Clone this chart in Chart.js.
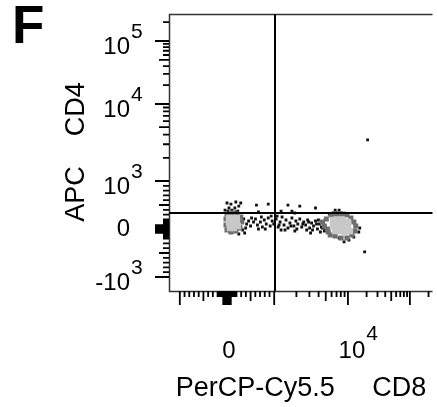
<!DOCTYPE html>
<html>
<head>
<meta charset="utf-8">
<script src="https://cdn.jsdelivr.net/npm/chart.js@4.4.1/dist/chart.umd.min.js"></script>
<style>
  html, body { margin: 0; padding: 0; background: #fff; }
  canvas { display: block; }
</style>
</head>
<body>
<canvas id="facs" width="437" height="407"></canvas>
<script>
// events, raw fluorescence (x = CD8, y = CD4)
const sparseCD8 = [0, 83, 187, 291, 250, 42, 166, -42, 229,
  333, 374, 250, 291,
  624, 874, 666, 1536, 2221, 1738, 1905, 3631, 6708, 7585, 1240,
  354, 416, 458, 499, 562, 603, 645, 707, 749, 790, 832, 874, 915, 957, 990,
  1063, 1131, 1202, 1278, 1359, 1445, 1536, 1634, 1738, 1848, 1965, 2089, 2221,
  2362, 2512, 2671, 2840, 3020, 3212, 3415, 3631, 3861, 4106, 4365, 4642, 4936,
  936, 1096, 1240, 666, 1905,
  395, 520, 728, 811, 1166, 1402, 1686, 2026, 2438, 2929, 3311, 3745, 3981, 4500, 4786,
  3114, 2754, 4233,
  5580, 6310, 7133, 8066, 9120, 20, 104, 187,
  7585, 8844, 10372, 12450, 14950, 15506, 18610, 20760];
const sparseCD4 = [541, 520, 562, 541, 478, 437, 437, 395, 374,
  -21, -83, -104, 42,
  499, 520, 354, 499, 478, 374, 333, 437, 395, 395, 374,
  208, 104, 166, 62, 146, 208, 83, 146, 42, 187, 104, 229, 62, 166, 104,
  208, 42, 146, 250, 83, 187, 21, 125, 229, 62, 166, 104, 208,
  42, 146, 83, 187, 21, 125, 62, 166, 0, 104, 42, 146, -21,
  270, 270, -21, 0, -42,
  21, 229, 250, 0, 83, -21, 62, 0, 104, 146, -21, 104, 187, 21, -42,
  -83, -21, -62,
  312, 333, 333, 333, 312, 374, 395, 354,
  -187, -270, -229, -166, -62, 21, -478, 3415];

// darker rim of the two populations
const rimCD8 = [0, 104, 208, 291, 312, 271, 187, 83, 0, -21, -21,
  4500, 4786, 5089, 5412, 5934, 6708, 7585, 8577, 9698, 11158, 12450,
  13394, 12914, 11573, 9698, 8066, 6708, 5754, 5248];
const rimCD4 = [312, 333, 312, 250, 146, 21, -42, -62, -21, 83, 208,
  146, 62, 208, -62, 291, 312, 312, 312, 291, 229, 146,
  62, -42, -125, -187, -187, -146, -125, 0];

// dense cores
const coreCD8 = [42, 125, 208, 42, 125, 208, 62, 146, 229,
  6310, 7356, 8577, 10000, 6310, 7356, 8577, 10000, 6708, 7822, 9120, 10758];
const coreCD4 = [229, 229, 229, 125, 125, 125, 21, 21, 62,
  187, 187, 187, 146, 62, 62, 62, 42, -42, -42, -62, -42];

const gateCD8 = 1000;
const gateCD4 = 333;

const xLabelValues = [0, 10000];
const xLabelBase = ['0', '10'];
const xLabelExp = ['', '4'];
const yLabelValues = [100000, 10000, 1000, 0, -1000];
const yLabelBase = ['10', '10', '10', '0', '-10'];
const yLabelExp = ['5', '4', '3', '', '3'];

const xTitle = 'PerCP-Cy5.5     CD8';
const yTitle = 'APC    CD4';
const panelLetter = 'F';

// biexponential-like display transform
const xT = { lin: 48, dec1: 75, dec2: 63 };
const yT = { lin: 48, dec1: 77, dec2: 63 };

function biex(v, p) {
  const a = Math.abs(v);
  let d;
  if (a <= 1000) d = a * p.lin / 1000;
  else if (a <= 10000) d = p.lin + p.dec1 * Math.log10(a / 1000);
  else d = p.lin + p.dec1 + p.dec2 * Math.log10(a / 10000);
  return v < 0 ? -d : d;
}

function toPoints(xs, ys) {
  return xs.map((x, i) => ({ x: biex(x, xT), y: biex(ys[i], yT) }));
}

// tick values: 10s, 100s around zero, then decades
function tickValues() {
  const out = [];
  for (let m = 1; m <= 9; m++) {
    out.push(m * 20, -m * 20, m * 100, -m * 100);
    if (m >= 2) out.push(m * 1000, m * 10000, m * 100000);
  }
  return out.concat([0, 1000, -1000, 10000, 100000]);
}

function tickLen(v) {
  const a = Math.abs(v);
  if (a < 100 || a === 1000 || a === 10000 || a === 100000) return 14;
  if (a === 500 || a === 5000 || a === 50000) return 10;
  return 6;
}

const axesPlugin = {
  id: 'facsAxes',
  afterDraw(chart) {
    const ctx = chart.ctx;
    const area = chart.chartArea;
    const xs = chart.scales.x;
    const ys = chart.scales.y;
    ctx.save();

    // frame
    ctx.strokeStyle = '#333';
    ctx.lineWidth = 1.5;
    ctx.beginPath();
    ctx.moveTo(area.right, area.top + 0.5);
    ctx.lineTo(area.left + 0.5, area.top + 0.5);
    ctx.lineTo(area.left + 0.5, area.bottom + 0.5);
    ctx.lineTo(area.right, area.bottom + 0.5);
    ctx.stroke();

    // quadrant gates
    ctx.strokeStyle = '#000';
    ctx.lineWidth = 2;
    const gx = Math.round(xs.getPixelForValue(biex(gateCD8, xT))) + 1;
    const gy = Math.round(ys.getPixelForValue(biex(gateCD4, yT)));
    ctx.beginPath();
    ctx.moveTo(gx, area.top);
    ctx.lineTo(gx, area.bottom);
    ctx.moveTo(area.left, gy);
    ctx.lineTo(area.right, gy);
    ctx.stroke();

    // ticks
    ctx.strokeStyle = '#000';
    ctx.lineWidth = 1.8;
    ctx.beginPath();
    tickValues().forEach(v => {
      const px = xs.getPixelForValue(biex(v, xT));
      if (px >= area.left && px <= area.right) {
        ctx.moveTo(px, area.bottom);
        ctx.lineTo(px, area.bottom + tickLen(v));
      }
      const py = ys.getPixelForValue(biex(v, yT));
      if (py >= area.top && py <= area.bottom) {
        ctx.moveTo(area.left, py);
        ctx.lineTo(area.left - tickLen(v), py);
      }
    });
    ctx.stroke();

    // tick labels
    ctx.fillStyle = '#000';
    yLabelValues.forEach((v, i) => {
      const py = ys.getPixelForValue(biex(v, yT));
      const exp = yLabelExp[i];
      ctx.font = '24px Arial, "Liberation Sans", sans-serif';
      ctx.textAlign = 'right';
      ctx.textBaseline = 'middle';
      ctx.fillText(yLabelBase[i], 130, py + (exp ? 6 : 0));
      if (exp) {
        ctx.font = '21px Arial, "Liberation Sans", sans-serif';
        ctx.textAlign = 'left';
        ctx.textBaseline = 'alphabetic';
        ctx.fillText(exp, 131, py - 3);
      }
    });
    xLabelValues.forEach((v, i) => {
      const px = xs.getPixelForValue(biex(v, xT));
      const exp = xLabelExp[i];
      ctx.font = '24px Arial, "Liberation Sans", sans-serif';
      ctx.textAlign = 'center';
      ctx.textBaseline = 'alphabetic';
      const cx = px + (exp ? 4 : 2);
      ctx.fillText(xLabelBase[i], cx, 358);
      if (exp) {
        const w = ctx.measureText(xLabelBase[i]).width;
        ctx.font = '21px Arial, "Liberation Sans", sans-serif';
        ctx.textAlign = 'left';
        ctx.fillText(exp, cx + w / 2 + 1, 340);
      }
    });

    // axis titles
    ctx.font = '27px Arial, "Liberation Sans", sans-serif';
    ctx.textAlign = 'center';
    ctx.textBaseline = 'alphabetic';
    ctx.fillText(xTitle, 301, 396);
    ctx.save();
    ctx.translate(84, 152);
    ctx.rotate(-Math.PI / 2);
    ctx.fillText(yTitle, 0, 0);
    ctx.restore();

    // panel letter
    ctx.font = 'bold 53px Arial, "Liberation Sans", sans-serif';
    ctx.textAlign = 'left';
    ctx.fillText(panelLetter, 12, 43);

    ctx.restore();
  }
};

new Chart(document.getElementById('facs'), {
  type: 'scatter',
  data: {
    datasets: [
      {
        label: 'core',
        data: toPoints(coreCD8, coreCD4),
        pointStyle: 'rect',
        pointRadius: 4.5,
        borderWidth: 0,
        backgroundColor: '#c8c8c8',
      },
      {
        label: 'rim',
        data: toPoints(rimCD8, rimCD4),
        pointStyle: 'rect',
        pointRadius: 3.6,
        borderWidth: 0,
        backgroundColor: '#6e6e6e',
      },
      {
        label: 'events',
        data: toPoints(sparseCD8, sparseCD4),
        pointStyle: 'rect',
        pointRadius: 2,
        borderWidth: 0,
        backgroundColor: '#111',
      },
    ],
  },
  options: {
    responsive: false,
    animation: false,
    events: [],
    layout: { padding: { left: 169, top: 14, right: 0, bottom: 116 } },
    scales: {
      x: { type: 'linear', display: false, min: -59, max: 209 },
      y: { type: 'linear', display: false, min: -62, max: 215 },
    },
    plugins: {
      legend: { display: false },
      tooltip: { enabled: false },
    },
  },
  plugins: [axesPlugin],
});
</script>
</body>
</html>
